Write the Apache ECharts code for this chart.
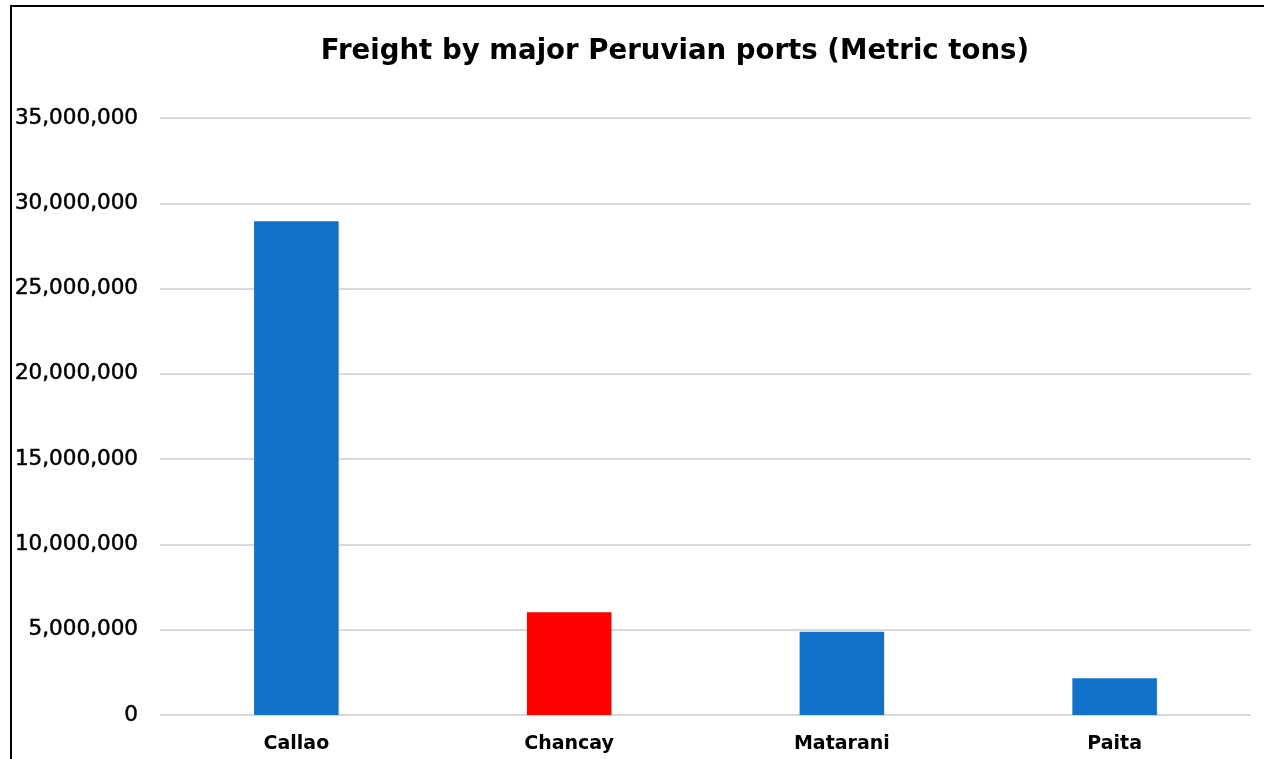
<!DOCTYPE html>
<html><head><meta charset="utf-8">
<script src="https://cdn.jsdelivr.net/npm/echarts@6/dist/echarts.min.js"></script>
<style>
html,body{margin:0;padding:0;background:#fff;overflow:hidden;}
#c{position:absolute;left:0;top:0;width:1264px;height:759px;}
#b{position:absolute;left:10px;top:5px;width:1300px;height:800px;border:2px solid #000;box-sizing:border-box;pointer-events:none;}
</style></head>
<body>
<div id="c"></div><div id="b"></div>
<script>
var title = 'Freight by major Peruvian ports (Metric tons)';
var categories = ['Callao', 'Chancay', 'Matarani', 'Paita'];
var values = [28950000, 6020000, 4880000, 2150000];
var barColors = ['#1170C8', '#FF0000', '#1170C8', '#1170C8'];

var chart = echarts.init(document.getElementById('c'), null, {renderer: 'canvas'});
chart.setOption({
  animation: false,
  backgroundColor: '#fff',
  title: {
    text: title, left: 670, top: 33, textAlign: 'center',
    textStyle: {fontFamily: 'DejaVu Sans', fontSize: 27.6, fontWeight: 'bold', color: '#000'}
  },
  grid: {left: 160, right: 13, top: 118, bottom: 44, containLabel: false},
  xAxis: {
    type: 'category', data: categories,
    axisLine: {show: false}, axisTick: {show: false},
    axisLabel: {margin: 20, color: '#000', fontFamily: 'DejaVu Sans', fontSize: 19, fontWeight: 'bold'}
  },
  yAxis: {
    type: 'value', min: 0, max: 35000000, interval: 5000000,
    axisLine: {show: false}, axisTick: {show: false},
    splitLine: {lineStyle: {color: '#d9d9d9', width: 2}},
    axisLabel: {margin: 22, color: '#000', fontFamily: 'DejaVu Sans', fontSize: 21.5,
      textBorderColor: '#000', textBorderWidth: 0.5, padding: [6, 0, 0, 0],
      formatter: function (v) { return v.toLocaleString('en-US'); }}
  },
  series: [{
    type: 'bar', barWidth: '31%',
    data: values.map(function (v, i) { return {value: v, itemStyle: {color: barColors[i]}}; })
  }]
});
</script>
</body></html>
